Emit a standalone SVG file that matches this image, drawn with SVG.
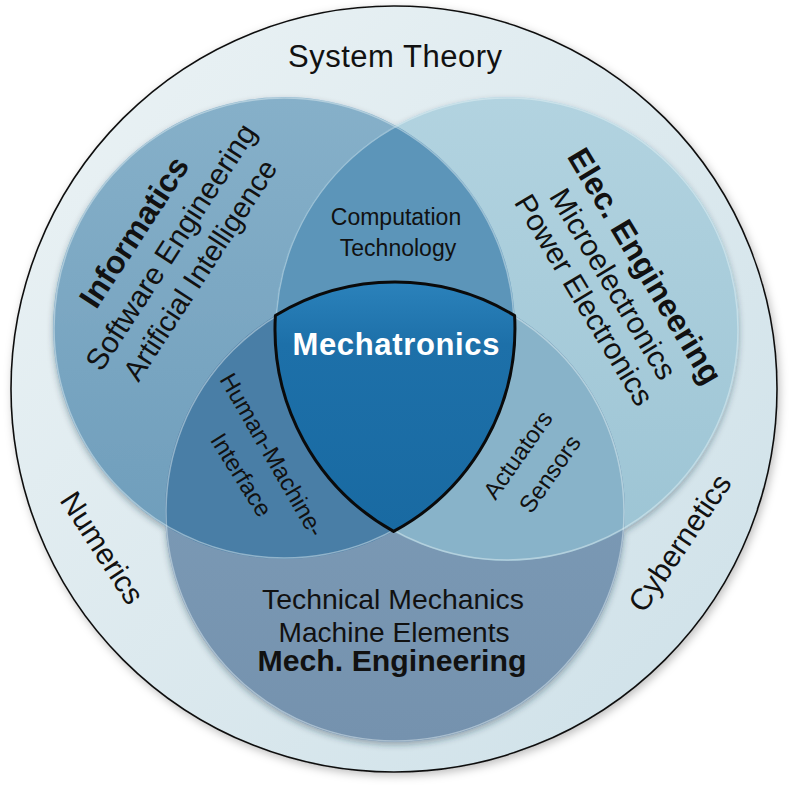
<svg xmlns="http://www.w3.org/2000/svg" width="790" height="789" viewBox="0 0 790 789">
<style>
text{font-family:"Liberation Sans",Arial,sans-serif;fill:#111;}
.b{font-weight:bold;}
.m{text-anchor:middle;}
</style>
<defs>
<linearGradient id="gOuter" x1="0" y1="0" x2="1" y2="1">
<stop offset="0" stop-color="#ecf3f5"/><stop offset="1" stop-color="#cde0e8"/>
</linearGradient>
<linearGradient id="gI" x1="0" y1="0" x2="0" y2="1">
<stop offset="0" stop-color="#86b0c9"/><stop offset="1" stop-color="#6e9dbb"/>
</linearGradient>
<linearGradient id="gE" x1="0" y1="0" x2="0" y2="1">
<stop offset="0" stop-color="#b2d3e0"/><stop offset="1" stop-color="#9cc4d4"/>
</linearGradient>
<linearGradient id="gM" x1="0" y1="0" x2="0" y2="1">
<stop offset="0" stop-color="#7f9fba"/><stop offset="1" stop-color="#7592ae"/>
</linearGradient>
<linearGradient id="gC" x1="0" y1="0" x2="0" y2="1">
<stop offset="0" stop-color="#2b82bb"/><stop offset="0.25" stop-color="#1d70a9"/><stop offset="1" stop-color="#196aa2"/>
</linearGradient>
<clipPath id="clipI"><circle cx="284" cy="328" r="231"/></clipPath>
<clipPath id="clipE"><circle cx="507" cy="329" r="232"/></clipPath>
<filter id="sh" x="-10%" y="-10%" width="120%" height="120%">
<feDropShadow dx="0" dy="3" stdDeviation="3" flood-color="#203040" flood-opacity="0.35"/>
</filter>
<filter id="sh2" x="-10%" y="-10%" width="120%" height="120%">
<feDropShadow dx="2" dy="3" stdDeviation="4" flood-color="#000" flood-opacity="0.25"/>
</filter>
</defs>

<g id="outer">
<circle cx="394" cy="389" r="383" fill="url(#gOuter)" stroke="#111" stroke-width="1.6" filter="url(#sh2)"/>
<text class="m" x="395" y="67" font-size="31" textLength="214" lengthAdjust="spacing">System Theory</text>
<text class="m" font-size="30" transform="translate(102,548) rotate(57)" y="10">Numerics</text>
<text class="m" font-size="30" transform="translate(680,543) rotate(-56)" y="10">Cybernetics</text>
</g>

<g id="circles" filter="url(#sh)">
<circle id="informatics-circle" cx="284" cy="328" r="231" fill="url(#gI)"/>
<circle id="elec-circle" cx="507" cy="329" r="232" fill="url(#gE)"/>
<circle id="mech-circle" cx="395" cy="512" r="230" fill="url(#gM)"/>
<circle cx="507" cy="329" r="232" fill="#5c95b9" clip-path="url(#clipI)"/>
<circle cx="395" cy="512" r="230" fill="#4a7ea6" clip-path="url(#clipI)"/>
<circle cx="395" cy="512" r="230" fill="#88b3c9" clip-path="url(#clipE)"/>
</g>
<g fill="none" stroke="#e8f3f7" stroke-opacity="0.45" stroke-width="1.5">
<circle cx="284" cy="328" r="230"/>
<circle cx="507" cy="329" r="231"/>
<circle cx="395" cy="512" r="229"/>
</g>

<g id="informatics">
<g transform="translate(134,232) rotate(-57)">
<text class="m b" font-size="32" y="11">Informatics</text>
</g>
<g transform="translate(171,247) rotate(-57)">
<text class="m" font-size="30" y="10">Software Engineering</text>
</g>
<g transform="translate(200,270) rotate(-57)">
<text class="m" font-size="29" y="10">Artificial Intelligence</text>
</g>
</g>

<g id="elec">
<g transform="translate(645,266) rotate(59)">
<text class="m b" font-size="32" y="11">Elec. Engineering</text>
</g>
<g transform="translate(613,284) rotate(59)">
<text class="m" font-size="30" y="10">Microelectronics</text>
</g>
<g transform="translate(584,300) rotate(59)">
<text class="m" font-size="30" y="10">Power Electronics</text>
</g>
</g>

<g id="mech">
<text class="m" x="393" y="609" font-size="27.5" textLength="262" lengthAdjust="spacingAndGlyphs">Technical Mechanics</text>
<text class="m" x="394" y="642" font-size="27.5" textLength="231" lengthAdjust="spacingAndGlyphs">Machine Elements</text>
<text class="m b" x="392" y="671" font-size="29" textLength="269" lengthAdjust="spacingAndGlyphs">Mech. Engineering</text>
</g>

<g id="computation">
<text class="m" x="396" y="225" font-size="23">Computation</text>
<text class="m" x="398" y="256" font-size="23">Technology</text>
</g>

<g id="hmi">
<text class="m" font-size="24" transform="translate(272,455) rotate(60)" y="8">Human-Machine-</text>
<text class="m" font-size="24" transform="translate(241,475) rotate(58)" y="8">Interface</text>
</g>

<g id="actuators">
<text class="m" font-size="24" transform="translate(518,455) rotate(-55)" y="8">Actuators</text>
<text class="m" font-size="24" transform="translate(550,474) rotate(-55)" y="8">Sensors</text>
</g>

<g id="mechatronics">
<path d="M275.4,315.5 A230,230 0 0 1 514.6,315.6 A231,231 0 0 1 393.6,531.4 A232,232 0 0 1 275.4,315.5 Z" fill="url(#gC)" stroke="#0a0a0a" stroke-width="3" stroke-linejoin="round"/>
<text class="m b" x="396" y="355" font-size="31" textLength="207" lengthAdjust="spacing" style="fill:#fff">Mechatronics</text>
</g>
</svg>
